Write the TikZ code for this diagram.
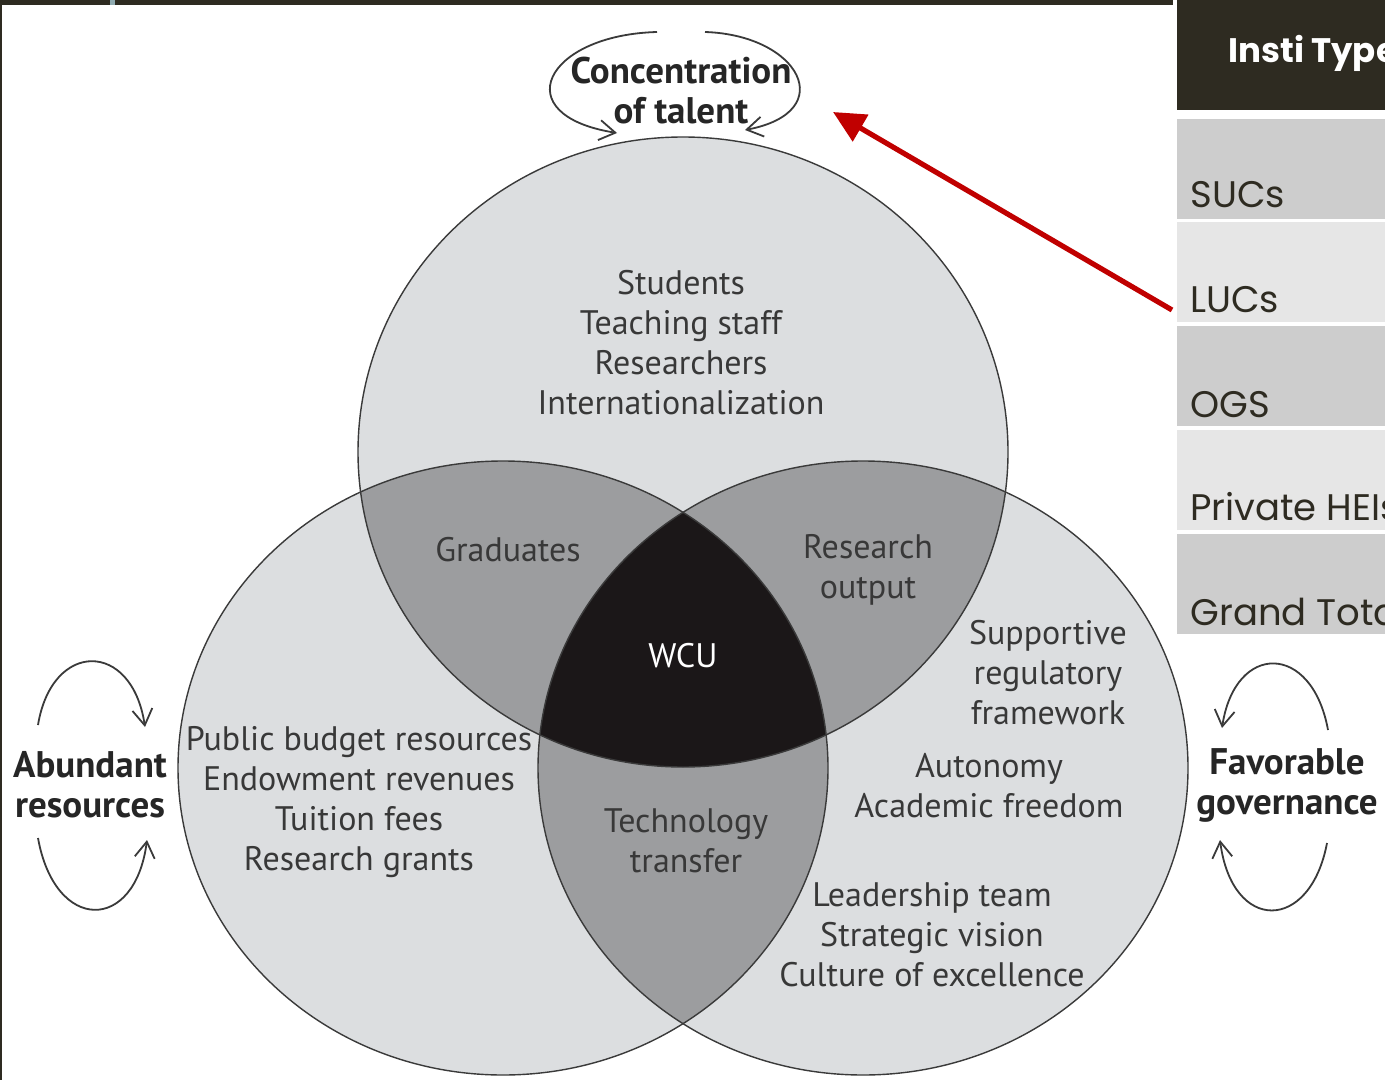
\documentclass[tikz,border=0pt]{standalone}
\usepackage{fontspec}
\setmainfont{PT Sans}
\newfontfamily\tablefont{Poppins}
\usetikzlibrary{arrows.meta}
\definecolor{vennlight}{HTML}{DCDEE0}
\definecolor{vennmid}{HTML}{9C9D9F}
\definecolor{venndark}{HTML}{1B1718}
\definecolor{vennline}{HTML}{3A3A3A}
\definecolor{labeltext}{HTML}{383838}
\definecolor{slidedark}{HTML}{2E2B21}
\definecolor{slideblue}{HTML}{8FAAB0}
\definecolor{rowdark}{HTML}{CDCDCD}
\definecolor{rowlight}{HTML}{E6E6E6}
\definecolor{arrowred}{HTML}{C00000}
\begin{document}
\begin{tikzpicture}[x=0.5pt, y=-0.5pt,
  item/.style={align=center, font=\fontsize{17}{20}\selectfont,
               text=labeltext, inner sep=0pt},
  factor/.style={align=center, font=\fontsize{18.5}{20}\selectfont\bfseries,
                 text=black!85, inner sep=0pt},
  cycle/.style={-{Straight Barb[length=8pt,width=10pt]}, line width=0.9pt,
                draw=vennline},
  rowbox/.style={rectangle, minimum width=104pt, minimum height=50pt,
                 inner sep=0pt, anchor=north west},
  rowtext/.style={anchor=base west, inner sep=0pt, text=slidedark,
                  font=\tablefont\fontsize{18.5}{20}\selectfont},
  pointer/.style={-{Triangle[length=16pt,width=15pt]}, line width=2.6pt,
                  draw=arrowred}
]
  \useasboundingbox (0,0) rectangle (1385,1080);
  \clip (0,0) rectangle (1385,1080);
  \fill[white] (0,0) rectangle (1385,1080);

  \fill[slidedark] (0,0) rectangle (1173,5);
  \fill[slidedark] (0,0) rectangle (2,1080);
  \fill[slideblue] (110,0) rectangle (115,5);

  \fill[vennlight] (683,452) ellipse [x radius=325, y radius=315];
  \fill[vennlight] (503,768) ellipse [x radius=325, y radius=307];
  \fill[vennlight] (863,768) ellipse [x radius=325, y radius=307];
  \begin{scope}
    \clip (503,768) ellipse [x radius=325, y radius=307];
    \fill[vennmid] (863,768) ellipse [x radius=325, y radius=307];
  \end{scope}
  \begin{scope}
    \clip (683,452) ellipse [x radius=325, y radius=315];
    \fill[vennmid] (503,768) ellipse [x radius=325, y radius=307];
    \fill[vennmid] (863,768) ellipse [x radius=325, y radius=307];
    \clip (503,768) ellipse [x radius=325, y radius=307];
    \fill[venndark] (863,768) ellipse [x radius=325, y radius=307];
  \end{scope}
  \draw[vennline, line width=0.7pt] (683,452) ellipse [x radius=325, y radius=315];
  \draw[vennline, line width=0.7pt] (503,768) ellipse [x radius=325, y radius=307];
  \draw[vennline, line width=0.7pt] (863,768) ellipse [x radius=325, y radius=307];

  \node[item] (talentitems) at (681,343)
    {Students\\Teaching staff\\Researchers\\Internationalization};
  \node[item] (graduates) at (508,550) {Graduates};
  \node[item] (research) at (868,570) {Research\\output};
  \node[item, text=white] (wcu) at (683,656) {WCU};
  \node[item] (regulatory) at (1048,673)
    {Supportive\\regulatory\\framework};
  \node[item] (autonomy) at (989,786) {Autonomy\\Academic freedom};
  \node[item] (budget) at (359,802)
    {Public budget resources\\Endowment revenues\\Tuition fees\\Research grants};
  \node[item] (transfer) at (686,841) {Technology\\transfer};
  \node[item] (leadership) at (932,935)
    {Leadership team\\Strategic vision\\Culture of excellence};

  \node[factor] (talent) at (681,91) {Concentration\\of talent};
  \node[factor] (resources) at (90,785) {Abundant\\resources};
  \node[factor] (governance) at (1287,785) {Favorable\\governance};

  \draw[cycle] (657,32) .. controls (545,35) and (505,115) .. (617,133);
  \draw[cycle] (705,32) .. controls (800,35) and (840,112) .. (745,130);
  \draw[cycle] (38,725) .. controls (52,640) and (132,640) .. (145,727);
  \draw[cycle] (38,838) .. controls (55,933) and (135,933) .. (147,840);
  \draw[cycle] (1328,730) .. controls (1312,642) and (1235,642) .. (1222,728);
  \draw[cycle] (1327,843) .. controls (1310,933) and (1232,933) .. (1220,840);

  \node[rowbox, fill=slidedark, minimum height=55pt] (header) at (1177,0) {};
  \node[anchor=base west, inner sep=0pt, text=white,
        font=\tablefont\bfseries\fontsize{17}{20}\selectfont] (insti) at (1228,63)
    {Insti Type};
  \node[rowbox, fill=rowdark]  (sucs)    at (1177,119) {};
  \node[rowbox, fill=rowlight] (lucs)    at (1177,222) {};
  \node[rowbox, fill=rowdark]  (ogs)     at (1177,326) {};
  \node[rowbox, fill=rowlight] (private) at (1177,430) {};
  \node[rowbox, fill=rowdark]  (grand)   at (1177,534) {};
  \node[rowtext] (sucs-t)    at (1190,208) {SUCs};
  \node[rowtext] (lucs-t)    at (1190,313) {LUCs};
  \node[rowtext] (ogs-t)     at (1190,417) {OGS};
  \node[rowtext] (private-t) at (1190,520) {Private HEIs};
  \node[rowtext] (grand-t)   at (1190,625) {Grand Total};

  \coordinate (tail) at (1172,310);
  \coordinate (head) at (833,112);
  \draw[pointer] (tail) -- (head);
\end{tikzpicture}
\end{document}
